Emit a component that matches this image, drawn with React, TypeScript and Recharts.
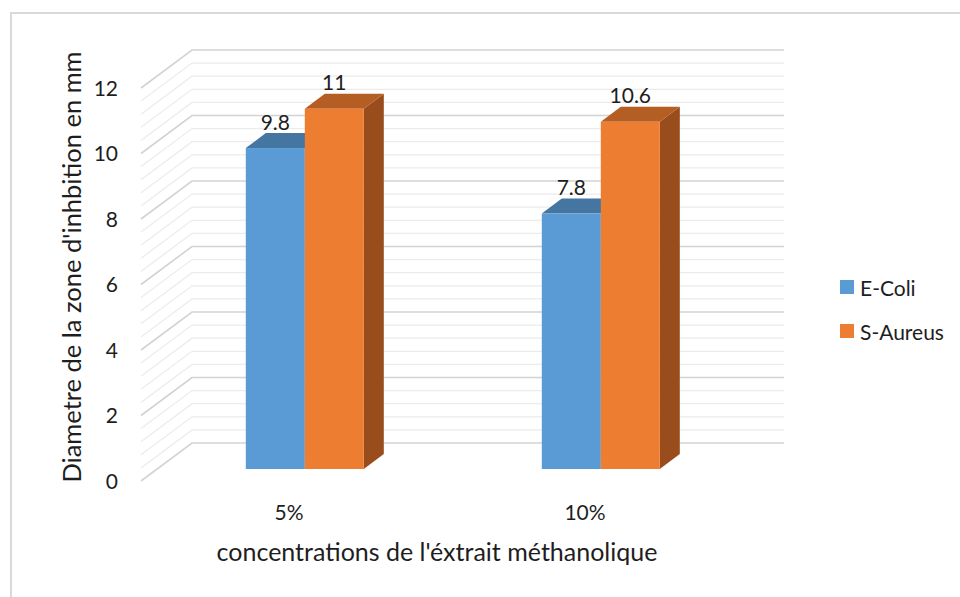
import React from "react";
import {
  BarChart,
  Bar,
  XAxis,
  YAxis,
  CartesianGrid,
  Legend,
  LabelList,
  Label,
} from "recharts";

const CATEGORIES = ["5%", "10%"];
const E_COLI = [9.8, 7.8];
const S_AUREUS = [11, 10.6];
const Y_TICKS = [
  0, 0.4, 0.8, 1.2, 1.6, 2, 2.4, 2.8, 3.2, 3.6, 4, 4.4, 4.8, 5.2, 5.6, 6, 6.4, 6.8, 7.2, 7.6, 8, 8.4,
  8.8, 9.2, 9.6, 10, 10.4, 10.8, 11.2, 11.6, 12,
];

const data = CATEGORIES.map((name, i) => ({ name, ecoli: E_COLI[i], saureus: S_AUREUS[i] }));

const W = 960;
const H = 597;
const TOP = 76;
const Y_AXIS_W = 157;
const X_AXIS_H = 128;
const PLOT_BOTTOM = H - X_AXIS_H;

// offsets from the plane of the bars' front faces
const FRONT = { dx: -16, dy: 12 };
const BACK = { dx: 35, dy: -26 };
const DEPTH = { dx: 20, dy: 15 };

const FONT = "Lato, 'Open Sans', sans-serif";
const TEXT = "#1e1e1e";

function GridLine(props: any) {
  const { x1, y1, x2, index } = props;
  const major = index % 5 === 0;
  const pts = [
    [x1 + FRONT.dx, y1 + FRONT.dy],
    [x1 + BACK.dx, y1 + BACK.dy],
    [x2 + BACK.dx, y1 + BACK.dy],
  ]
    .map((p) => p.join(","))
    .join(" ");
  return (
    <polyline
      points={pts}
      fill="none"
      stroke={major ? "#d3d3d3" : "#ececec"}
      strokeWidth={major ? 1.6 : 1.3}
    />
  );
}

function Box3D(props: any) {
  const { x, y, width, height, fill, topFill, sideFill } = props;
  if (height == null || height <= 0) return null;
  const r = x + width;
  const b = y + height;
  return (
    <g>
      <polygon
        points={`${r},${y} ${r + DEPTH.dx},${y - DEPTH.dy} ${r + DEPTH.dx},${b - DEPTH.dy} ${r},${b}`}
        fill={sideFill}
      />
      <polygon
        points={`${x},${y} ${x + DEPTH.dx},${y - DEPTH.dy} ${r + DEPTH.dx},${y - DEPTH.dy} ${r},${y}`}
        fill={topFill}
      />
      <rect x={x} y={y} width={width} height={height} fill={fill} />
    </g>
  );
}

function YTick(props: any) {
  const { y, payload } = props;
  if (payload.value % 2 !== 0) return <g />;
  return (
    <text
      x={Y_AXIS_W - 39}
      y={y + FRONT.dy}
      dy="0.36em"
      textAnchor="end"
      fontSize={21}
      fontFamily={FONT}
      fill={TEXT}
    >
      {payload.value}
    </text>
  );
}

function XTick(props: any) {
  const { x, payload } = props;
  return (
    <text
      x={x + FRONT.dx}
      y={PLOT_BOTTOM + 43}
      dy="0.36em"
      textAnchor="middle"
      fontSize={21}
      fontFamily={FONT}
      fill={TEXT}
    >
      {payload.value}
    </text>
  );
}

function ValueLabel(props: any) {
  const { x, y, width, value } = props;
  return (
    <text
      x={x + width / 2}
      y={y - 26}
      dy="0.36em"
      textAnchor="middle"
      fontSize={21}
      fontFamily={FONT}
      fill={TEXT}
    >
      {value}
    </text>
  );
}

function XTitle(props: any) {
  const { viewBox } = props;
  return (
    <text
      x={viewBox.x + viewBox.width / 2 + FRONT.dx}
      y={PLOT_BOTTOM + 83}
      dy="0.36em"
      textAnchor="middle"
      fontSize={25}
      fontFamily={FONT}
      fill={TEXT}
    >
      concentrations de l'éxtrait méthanolique
    </text>
  );
}

function YTitle() {
  return (
    <text
      x={0}
      y={0}
      transform="translate(72, 267) rotate(-90)"
      dy="0.36em"
      textAnchor="middle"
      fontSize={25.5}
      fontFamily={FONT}
      fill={TEXT}
    >
      Diametre de la zone d'inhbition en mm
    </text>
  );
}

function LegendBox(props: any) {
  const { payload } = props;
  return (
    <div style={{ fontFamily: FONT, fontSize: 21, color: TEXT }}>
      {(payload || []).map((item: any) => (
        <div
          key={item.value}
          style={{ display: "flex", alignItems: "center", height: 44, whiteSpace: "nowrap" }}
        >
          <span
            style={{
              display: "inline-block",
              width: 14,
              height: 14,
              background: item.color,
              marginRight: 6,
            }}
          />
          {item.value}
        </div>
      ))}
    </div>
  );
}

export default function App() {
  return (
    <div
      style={{
        position: "absolute",
        left: 0,
        top: 0,
        width: W,
        height: H,
        overflow: "hidden",
        background: "#fff",
      }}
    >
      <div
        style={{
          position: "absolute",
          left: 10,
          top: 12,
          width: 1000,
          height: 700,
          border: "2px solid #d9d9d9",
        }}
      />
      <div style={{ position: "absolute", left: 0, top: 0 }}>
        <BarChart
          width={W}
          height={H}
          data={data}
          margin={{ top: TOP, right: 211, left: 0, bottom: 0 }}
          barGap={0}
          barCategoryGap="30%"
        >
          <CartesianGrid horizontal={GridLine} vertical={false} />
          <XAxis
            dataKey="name"
            height={X_AXIS_H}
            axisLine={false}
            tickLine={false}
            tick={XTick}
          >
            <Label content={XTitle} />
          </XAxis>
          <YAxis
            width={Y_AXIS_W}
            domain={[0, 12]}
            ticks={Y_TICKS}
            interval={0}
            axisLine={false}
            tickLine={false}
            tick={YTick}
          >
            <Label content={YTitle} />
          </YAxis>
          <Legend
            layout="vertical"
            align="center"
            verticalAlign="middle"
            content={LegendBox}
            wrapperStyle={{ left: 840, top: 265, width: 120 }}
          />
          <Bar
            dataKey="ecoli"
            name="E-Coli"
            fill="#5b9bd5"
            isAnimationActive={false}
            shape={(p: any) => <Box3D {...p} topFill="#4575a1" sideFill="#3e6a93" />}
          >
            <LabelList dataKey="ecoli" content={ValueLabel} />
          </Bar>
          <Bar
            dataKey="saureus"
            name="S-Aureus"
            fill="#ed7d31"
            isAnimationActive={false}
            shape={(p: any) => <Box3D {...p} topFill="#b55e23" sideFill="#994d1c" />}
          >
            <LabelList dataKey="saureus" content={ValueLabel} />
          </Bar>
        </BarChart>
      </div>
    </div>
  );
}
